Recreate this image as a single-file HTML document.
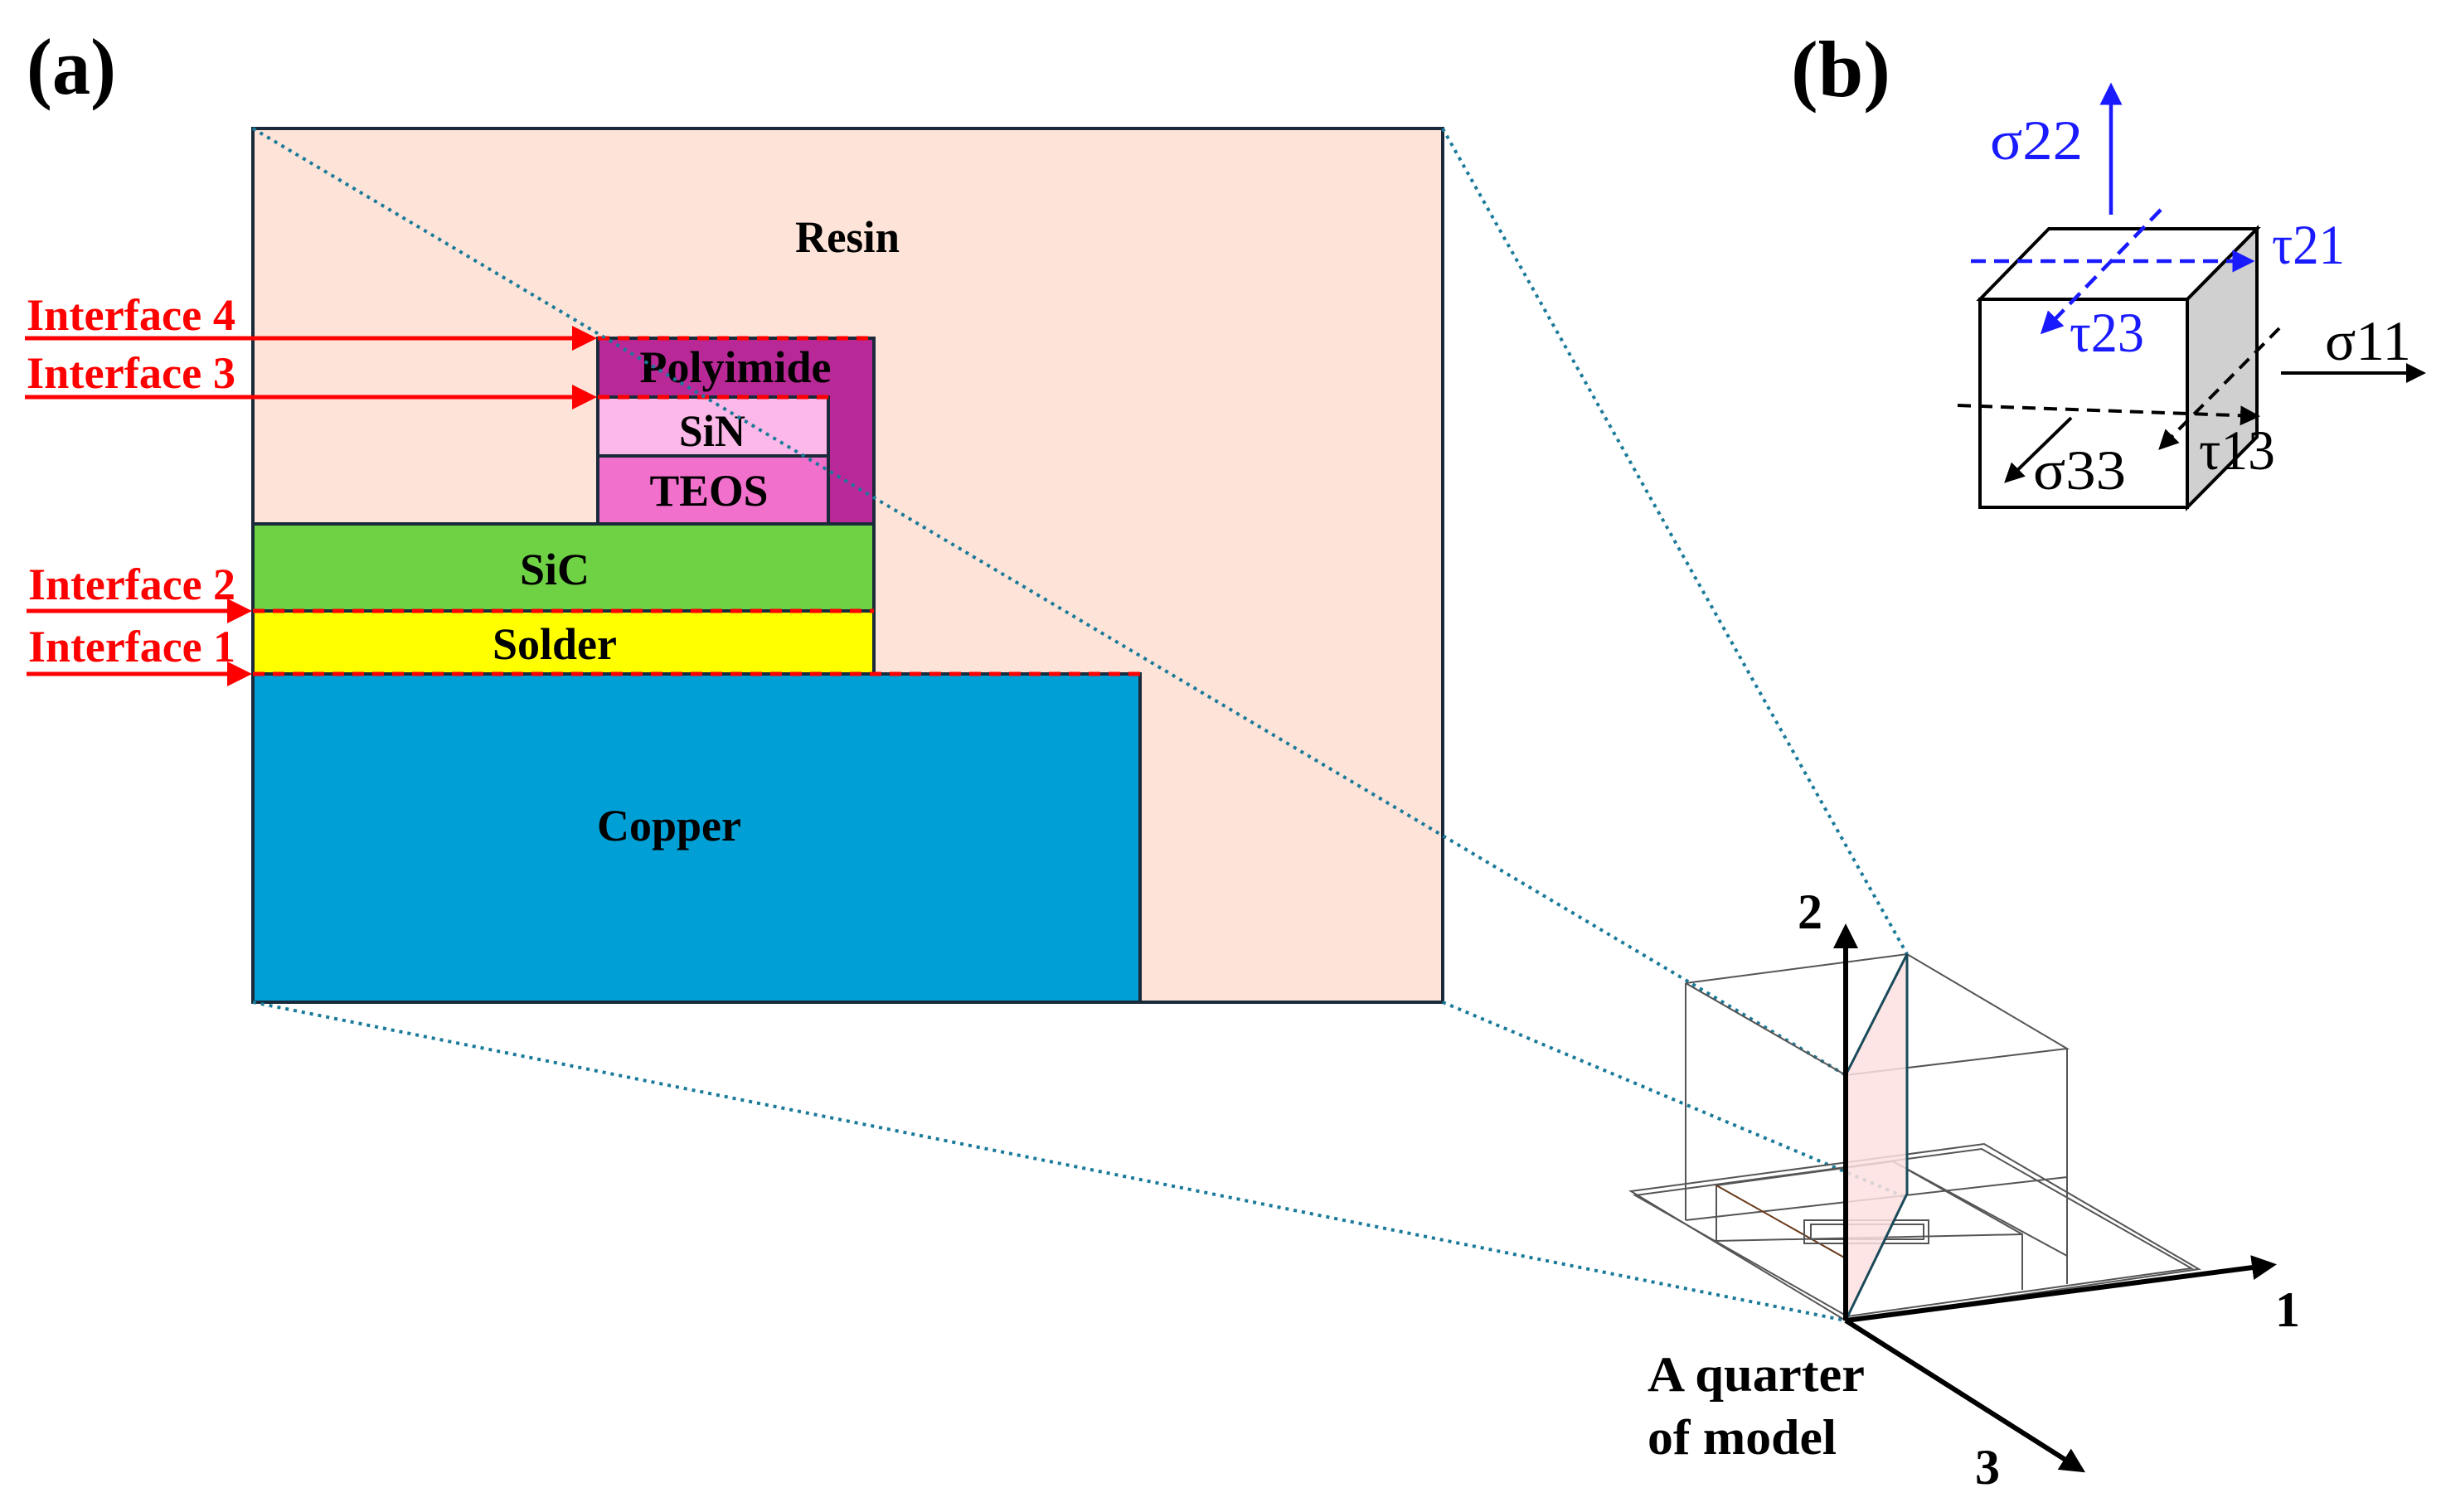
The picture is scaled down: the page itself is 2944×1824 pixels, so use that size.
<!DOCTYPE html>
<html><head><meta charset="utf-8"><style>
html,body{margin:0;padding:0;background:#fff;}
svg{display:block;}
text{font-family:"Liberation Serif",serif;}
</style></head><body>
<svg width="2944" height="1824" viewBox="0 0 2944 1824" xmlns="http://www.w3.org/2000/svg">
<defs>
<marker id="ar" markerWidth="6" markerHeight="6" refX="5" refY="3" orient="auto" markerUnits="strokeWidth"><path d="M0,0 L6,3 L0,6 z" fill="#ff0000"/></marker>
<marker id="ab" markerWidth="6" markerHeight="6" refX="5" refY="3" orient="auto" markerUnits="strokeWidth"><path d="M0,0 L6,3 L0,6 z" fill="#000"/></marker>
<marker id="abl" markerWidth="6" markerHeight="6" refX="5" refY="3" orient="auto" markerUnits="strokeWidth"><path d="M0,0 L6,3 L0,6 z" fill="#1a1aff"/></marker>
<marker id="ak" markerWidth="5" markerHeight="5" refX="4" refY="2.5" orient="auto" markerUnits="strokeWidth"><path d="M0,0 L5,2.5 L0,5 z" fill="#000"/></marker>
</defs>

<!-- (a) -->
<text x="32" y="113" font-size="96" font-weight="bold" textLength="108" lengthAdjust="spacingAndGlyphs">(a)</text>
<rect x="305" y="155" width="1435" height="1054" fill="#fde3d8" stroke="#1a2a3a" stroke-width="4"/>
<rect x="305" y="813" width="1070" height="396" fill="#00a0d6" stroke="#1a2a3a" stroke-width="4"/>
<rect x="305" y="737" width="749" height="76" fill="#ffff00" stroke="#1a2a3a" stroke-width="4"/>
<rect x="305" y="632" width="749" height="105" fill="#6fd144" stroke="#1a2a3a" stroke-width="4"/>
<rect x="721" y="408" width="333" height="224" fill="#b82896" stroke="#1a2a3a" stroke-width="4"/>
<rect x="721" y="479" width="278" height="71" fill="#fcb8e8" stroke="#1a2a3a" stroke-width="4"/>
<rect x="721" y="550" width="278" height="82" fill="#f070cc" stroke="#1a2a3a" stroke-width="4"/>
<g stroke="#ff0000" stroke-width="5" stroke-dasharray="14 10" fill="none">
<line x1="721" y1="408" x2="1054" y2="408"/>
<line x1="721" y1="479" x2="999" y2="479"/>
<line x1="305" y1="737" x2="1054" y2="737"/>
<line x1="305" y1="813" x2="1375" y2="813"/>
</g>
<g font-size="54" font-weight="bold" text-anchor="middle" fill="#000" lengthAdjust="spacingAndGlyphs">
<text x="1022" y="304" textLength="126" lengthAdjust="spacingAndGlyphs">Resin</text>
<text x="887" y="461" textLength="231" lengthAdjust="spacingAndGlyphs">Polyimide</text>
<text x="859" y="538" textLength="80" lengthAdjust="spacingAndGlyphs">SiN</text>
<text x="855" y="610" textLength="143" lengthAdjust="spacingAndGlyphs">TEOS</text>
<text x="669" y="705" textLength="84" lengthAdjust="spacingAndGlyphs">SiC</text>
<text x="669" y="795" textLength="150" lengthAdjust="spacingAndGlyphs">Solder</text>
<text x="807" y="1014" textLength="174" lengthAdjust="spacingAndGlyphs">Copper</text>
</g>
<g font-size="54" font-weight="bold" fill="#ff0000">
<text x="32" y="398" textLength="252" lengthAdjust="spacingAndGlyphs">Interface 4</text>
<text x="32" y="468" textLength="252" lengthAdjust="spacingAndGlyphs">Interface 3</text>
<text x="34" y="723" textLength="250" lengthAdjust="spacingAndGlyphs">Interface 2</text>
<text x="34" y="798" textLength="250" lengthAdjust="spacingAndGlyphs">Interface 1</text>
</g>
<g stroke="#ff0000" stroke-width="5" marker-end="url(#ar)">
<line x1="30" y1="408" x2="715" y2="408"/>
<line x1="30" y1="479" x2="715" y2="479"/>
<line x1="32" y1="737" x2="299" y2="737"/>
<line x1="32" y1="813" x2="299" y2="813"/>
</g>

<g stroke="#1a7a99" stroke-width="4" stroke-dasharray="4 6" fill="none">
<line x1="305" y1="155" x2="2226" y2="1297"/>
<line x1="1740" y1="155" x2="2300" y2="1151"/>
<line x1="1740" y1="1209" x2="2300" y2="1445"/>
<line x1="305" y1="1209" x2="2226" y2="1593"/>
</g>

<!-- 3D model -->
<g stroke="#555" stroke-width="2" fill="none">
<polyline points="2033,1186 2300,1151 2493,1265 2226,1297 2033,1186"/>
<line x1="2033" y1="1186" x2="2033" y2="1472"/>
<line x1="2493" y1="1265" x2="2493" y2="1549"/>
<polygon points="1967,1437 2393,1380 2652,1531 2226,1593"/>
<polygon points="1972,1442 2390,1386 2643,1530 2228,1588"/>
<line x1="2033" y1="1472" x2="2493" y2="1420"/>
<polyline points="2070,1430 2283,1401 2439,1489 2439,1556"/>
<line x1="2070" y1="1430" x2="2070" y2="1497"/>
<line x1="2070" y1="1497" x2="2439" y2="1489"/>
<line x1="2070" y1="1430" x2="2226" y2="1518" stroke="#6a3a1a"/>
<line x1="2283" y1="1401" x2="2493" y2="1515"/>
<rect x="2176" y="1472" width="150" height="28"/>
<rect x="2184" y="1477" width="136" height="18"/>
</g>
<polygon points="2226,1297 2300,1151 2300,1440 2226,1593" fill="#fde0e0" fill-opacity="0.85" stroke="#1a4a5a" stroke-width="3"/>
<g stroke="#000" stroke-width="6">
<line x1="2226" y1="1593" x2="2226" y2="1120" marker-end="url(#ak)"/>
<line x1="2226" y1="1593" x2="2740" y2="1526" marker-end="url(#ak)"/>
<line x1="2226" y1="1593" x2="2510" y2="1773" marker-end="url(#ak)"/>
</g>
<g font-size="60" font-weight="bold" fill="#000">
<text x="2168" y="1120">2</text>
<text x="2744" y="1600">1</text>
<text x="2382" y="1790">3</text>
<text x="1987" y="1678" textLength="262" lengthAdjust="spacingAndGlyphs">A quarter</text>
<text x="1987" y="1754" textLength="228" lengthAdjust="spacingAndGlyphs">of model</text>
</g>

<!-- (b) -->
<text x="2160" y="116" font-size="96" font-weight="bold" textLength="120" lengthAdjust="spacingAndGlyphs">(b)</text>
<polygon points="2638,361 2722,276 2722,527 2638,612" fill="#d0d0d0" stroke="#000" stroke-width="4"/>
<polygon points="2388,361 2471,276 2722,276 2638,361" fill="#fff" stroke="#000" stroke-width="4"/>
<rect x="2388" y="361" width="250" height="251" fill="#fff" stroke="#000" stroke-width="4"/>
<g stroke="#1a1aff" stroke-width="4.5" fill="none">
<line x1="2546" y1="259" x2="2546" y2="104" marker-end="url(#abl)"/>
<line x1="2377" y1="315" x2="2715" y2="315" stroke-dasharray="18 10" marker-end="url(#abl)"/>
<line x1="2606" y1="253" x2="2464" y2="400" stroke-dasharray="18 10" marker-end="url(#abl)"/>
</g>
<g stroke="#000" stroke-width="4" fill="none">
<line x1="2751" y1="450" x2="2922" y2="450" marker-end="url(#ab)"/>
<line x1="2361" y1="489" x2="2722" y2="502" stroke-dasharray="16 10" marker-end="url(#ab)"/>
<line x1="2749" y1="396" x2="2606" y2="540" stroke-dasharray="16 10" marker-end="url(#ab)"/>
<line x1="2498" y1="504" x2="2420" y2="580" marker-end="url(#ab)"/>
</g>
<g font-size="68" fill="#1a1aff">
<text x="2400" y="192" textLength="112" lengthAdjust="spacingAndGlyphs">σ22</text>
<text x="2740" y="318" textLength="88" lengthAdjust="spacingAndGlyphs">τ21</text>
<text x="2496" y="424" textLength="90" lengthAdjust="spacingAndGlyphs">τ23</text>
</g>
<g font-size="68" fill="#000">
<text x="2804" y="434" textLength="104" lengthAdjust="spacingAndGlyphs">σ11</text>
<text x="2652" y="566" textLength="92" lengthAdjust="spacingAndGlyphs">τ13</text>
<text x="2452" y="590" textLength="112" lengthAdjust="spacingAndGlyphs">σ33</text>
</g>
</svg>
</body></html>
